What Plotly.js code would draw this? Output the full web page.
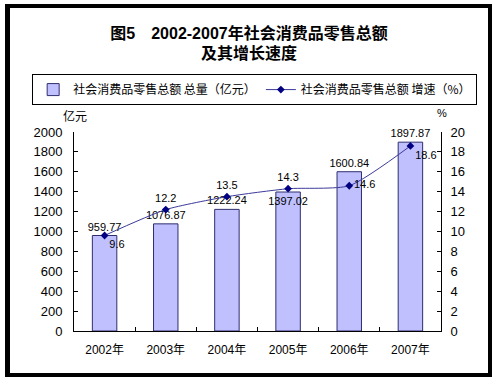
<!DOCTYPE html>
<html><head><meta charset="utf-8">
<script src="https://cdn.plot.ly/plotly-3.0.1.min.js"></script>
<style>
html,body{margin:0;padding:0;background:#fff;}
#frame{position:absolute;left:5px;top:4px;width:478px;height:365px;border-style:solid;border-color:#000;border-width:4px 4px 4px 5px;}
#chart{position:absolute;left:0;top:0;width:498px;height:383px;}
</style></head>
<body>
<div id="frame"></div>
<div id="chart"></div>
<script>
const years = ['2002年','2003年','2004年','2005年','2006年','2007年'];
const totals = [959.77, 1076.87, 1222.24, 1397.02, 1600.84, 1897.87];
const growth = [9.6, 12.2, 13.5, 14.3, 14.6, 18.6];
const totalLabels = ['959.77','1076.87','1222.24','1397.02','1600.84','1897.87'];
const growthLabels = ['9.6','12.2','13.5','14.3','14.6','18.6'];
const totalPos = ['outside','outside','outside','inside','outside','outside'];
const growthPos = ['bottom right','top center','top center','top center','middle right','bottom right'];

const fnt = 'Liberation Sans, Arial, Noto Sans CJK SC, sans-serif';

const traces = [
  {type:'bar', x:years, y:totals, name:'社会消费品零售总额 总量（亿元）',
   marker:{color:'#C0C0FF', line:{color:'#2E2E6E', width:1}}, width:0.4,
   text:totalLabels, textposition:totalPos, insidetextanchor:'end', textangle:0,
   cliponaxis:false, constraintext:'none',
   textfont:{family:fnt, size:11, color:'#000'}, hoverinfo:'skip'},
  {type:'scatter', mode:'lines+markers+text', x:years, y:growth, yaxis:'y2',
   name:'社会消费品零售总额 增速（%）',
   line:{color:'#3A3A99', width:1, shape:'spline', smoothing:0.6},
   marker:{symbol:'diamond', size:6, color:'#000080'},
   text:growthLabels, textposition:growthPos, cliponaxis:false,
   textfont:{family:fnt, size:11, color:'#000'}, hoverinfo:'skip'}
];

const layout = {
  width:498, height:383,
  margin:{l:74, r:57, t:132, b:52},
  paper_bgcolor:'rgba(0,0,0,0)', plot_bgcolor:'#fff',
  font:{family:fnt, color:'#000'},
  showlegend:true,
  title:{text:'<b>图5　2002-2007年社会消费品零售总额</b><br><b>及其增长速度</b>',
    x:0.5, xanchor:'center', y:0.899, yanchor:'top',
    font:{family:'Liberation Sans, Noto Sans CJK SC, sans-serif', size:16, color:'#000'}},
  legend:{orientation:'h', x:-0.114, xanchor:'left', y:1.291, yanchor:'top',
    bordercolor:'#000', borderwidth:1, bgcolor:'#fff',
    font:{family:'Noto Sans CJK SC, sans-serif', size:12, color:'#000'},
    itemwidth:30, tracegroupgap:0},
  xaxis:{type:'category', showline:true, linecolor:'#000', linewidth:1,
    ticks:'inside', tickson:'boundaries', ticklen:4, tickcolor:'#000',
    tickfont:{family:fnt, size:12}, ticklabelstandoff:8, showgrid:false, zeroline:false, fixedrange:true},
  yaxis:{range:[0,2000], dtick:200, showline:true, linecolor:'#000', linewidth:1,
    ticks:'inside', ticklen:4, tickcolor:'#000', showgrid:false, zeroline:false,
    tickfont:{family:fnt, size:13}, ticklabelstandoff:8},
  yaxis2:{range:[0,20], dtick:2, overlaying:'y', side:'right', showline:true,
    linecolor:'#000', linewidth:1, ticks:'inside', ticklen:4, tickcolor:'#000',
    showgrid:false, zeroline:false, tickfont:{family:fnt, size:13}, ticklabelstandoff:6},
  annotations:[
    {text:'亿元', xref:'paper', yref:'paper', x:0.003, y:1.085, xanchor:'center', yanchor:'middle',
     showarrow:false, font:{family:'Noto Sans CJK SC, sans-serif', size:12, color:'#000'}},
    {text:'%', xref:'paper', yref:'paper', x:1.003, y:1.095, xanchor:'center', yanchor:'middle',
     showarrow:false, font:{family:fnt, size:11, color:'#000'}}
  ]
};
Plotly.newPlot('chart', traces, layout, {displayModeBar:false, staticPlot:true});
</script>
</body></html>
